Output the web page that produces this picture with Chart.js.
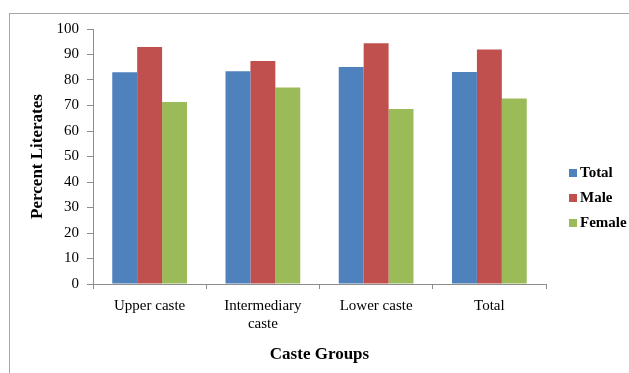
<!DOCTYPE html>
<html>
<head>
<meta charset="utf-8">
<script src="https://cdn.jsdelivr.net/npm/chart.js@4/dist/chart.umd.min.js"></script>
<style>
  html, body { margin: 0; padding: 0; background: #fff; }
  #wrap { position: relative; width: 629px; height: 373px; }
  #frame { position: absolute; left: 9px; top: 13px; right: 0; bottom: 0;
           border-left: 1px solid #a6a6a6; border-top: 1px solid #a6a6a6; }
  canvas { position: absolute; left: 0; top: 0; }
</style>
</head>
<body>
<div id="wrap">
  <div id="frame"></div>
  <canvas id="literacyChart" width="629" height="373"></canvas>
</div>
<script>
// Caste groups on the x axis
const casteGroups = ['Upper caste', ['Intermediary', 'caste'], 'Lower caste', 'Total'];

// Percent literates per group
const totalValues  = [83.0, 83.4, 85.1, 83.1];
const maleValues   = [92.9, 87.5, 94.4, 92.0];
const femaleValues = [71.4, 77.1, 68.6, 72.7];

const yTicks = [0, 10, 20, 30, 40, 50, 60, 70, 80, 90, 100];

const serif = "'Liberation Serif', 'Times New Roman', serif";

// legend drawn by hand on the right, like the Excel one
const sideLegend = {
    id: 'sideLegend',
    afterDraw(chart) {
        const ctx = chart.ctx;
        ctx.save();
        ctx.font = 'bold 15px ' + serif;
        ctx.textBaseline = 'middle';
        chart.data.datasets.forEach((ds, i) => {
            const y = 173 + i * 25;
            ctx.fillStyle = ds.backgroundColor;
            ctx.fillRect(569, y - 4, 8, 8);
            ctx.fillStyle = '#000';
            ctx.fillText(ds.label, 580, y);
        });
        ctx.restore();
    }
};

const ctx = document.getElementById('literacyChart').getContext('2d');
const literacyChart = new Chart(ctx, {
    type: 'bar',
    data: {
        labels: casteGroups,
        datasets: [
            { label: 'Total',  data: totalValues,  backgroundColor: '#4F81BD' },
            { label: 'Male',   data: maleValues,   backgroundColor: '#C0504D' },
            { label: 'Female', data: femaleValues, backgroundColor: '#9BBB59' }
        ]
    },
    options: {
        responsive: false,
        animation: false,
        categoryPercentage: 0.66,
        barPercentage: 1,
        layout: {
            padding: { left: 0, top: 29, right: 83, bottom: 0 }
        },
        scales: {
            x: {
                afterFit: (scale) => { scale.height = 89; },
                border: { color: '#8c8c8c' },
                grid: { display: true, drawOnChartArea: false, drawTicks: true, tickLength: 5, color: '#8c8c8c', offset: true },
                ticks: {
                    color: '#000',
                    padding: 8,
                    maxRotation: 0,
                    font: { family: serif, size: 15, lineHeight: 1.2 }
                },
                title: {
                    display: true,
                    text: 'Caste Groups',
                    color: '#000',
                    padding: { top: 0, bottom: 8 },
                    font: { family: serif, size: 17, weight: 'bold' }
                }
            },
            y: {
                min: 0,
                max: 100,
                afterFit: (scale) => { scale.width = 93; },
                afterBuildTicks: (scale) => { scale.ticks = yTicks.map(v => ({ value: v })); },
                border: { color: '#8c8c8c' },
                grid: { display: true, drawOnChartArea: false, drawTicks: true, tickLength: 6, color: '#8c8c8c' },
                ticks: {
                    color: '#000',
                    padding: 8,
                    font: { family: serif, size: 15 }
                },
                title: {
                    display: true,
                    text: 'Percent Literates',
                    color: '#000',
                    padding: { top: 27, bottom: 0 },
                    font: { family: serif, size: 17, weight: 'bold' }
                }
            }
        },
        plugins: {
            legend: { display: false },
            tooltip: { enabled: false }
        }
    },
    plugins: [sideLegend]
});
</script>
</body>
</html>
